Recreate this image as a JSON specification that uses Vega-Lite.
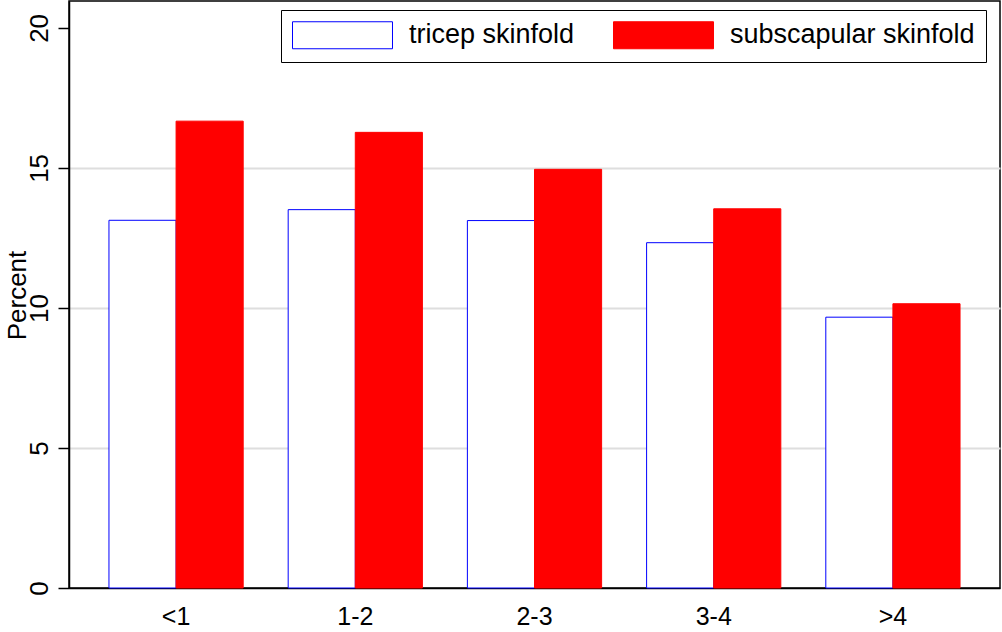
{
  "$schema": "https://vega.github.io/schema/vega-lite/v6.json",
  "width": 931,
  "height": 587,
  "autosize": {"type": "none"},
  "padding": {"left": 69, "top": 1, "right": 2, "bottom": 44},
  "background": "white",
  "config": {
    "font": "Liberation Sans",
    "view": {"stroke": "black", "strokeWidth": 1.5},
    "axis": {"labelColor": "black", "titleColor": "black", "labelFont": "Liberation Sans", "titleFont": "Liberation Sans"}
  },
  "data": {
    "values": [
      {"group": "<1", "series": "tricep skinfold", "percent": 13.13},
      {"group": "<1", "series": "subscapular skinfold", "percent": 16.67},
      {"group": "1-2", "series": "tricep skinfold", "percent": 13.51},
      {"group": "1-2", "series": "subscapular skinfold", "percent": 16.27},
      {"group": "2-3", "series": "tricep skinfold", "percent": 13.12},
      {"group": "2-3", "series": "subscapular skinfold", "percent": 14.95},
      {"group": "3-4", "series": "tricep skinfold", "percent": 12.33},
      {"group": "3-4", "series": "subscapular skinfold", "percent": 13.54},
      {"group": ">4", "series": "tricep skinfold", "percent": 9.67},
      {"group": ">4", "series": "subscapular skinfold", "percent": 10.15}
    ]
  },
  "mark": {"type": "bar", "strokeWidth": 1, "opacity": 1},
  "encoding": {
    "x": {
      "field": "group",
      "type": "nominal",
      "sort": ["<1", "1-2", "2-3", "3-4", ">4"],
      "scale": {"paddingInner": 0.251, "paddingOuter": 0.223},
      "axis": {
        "title": null,
        "labelAngle": 0,
        "ticks": false,
        "domain": true,
        "domainColor": "black",
        "domainWidth": 1.5,
        "labelFontSize": 25,
        "labelPadding": 16
      }
    },
    "xOffset": {
      "field": "series",
      "type": "nominal",
      "sort": ["tricep skinfold", "subscapular skinfold"],
      "scale": {"paddingInner": 0, "paddingOuter": 0}
    },
    "y": {
      "field": "percent",
      "type": "quantitative",
      "scale": {"domain": [0, 20.96], "nice": false, "zero": true},
      "axis": {
        "title": "Percent",
        "values": [0, 5, 10, 15, 20],
        "grid": true,
        "gridColor": {"condition": {"test": "datum.value == 0 || datum.value == 20", "value": "transparent"}, "value": "#dedede"},
        "gridWidth": 2,
        "domainColor": "black",
        "domainWidth": 1.5,
        "tickColor": "black",
        "tickWidth": 1.5,
        "tickSize": 11,
        "labelAngle": 270,
        "labelAlign": "center",
        "labelBaseline": "alphabetic",
        "labelFontSize": 26,
        "labelPadding": 11,
        "titleFontSize": 26,
        "titleFontWeight": "normal",
        "titleAngle": 270,
        "titleBaseline": "alphabetic",
        "titleX": -44,
        "titleY": 294
      }
    },
    "fill": {
      "field": "series",
      "type": "nominal",
      "scale": {"domain": ["tricep skinfold", "subscapular skinfold"], "range": ["#ffffff", "#ff0000"]},
      "legend": {
        "title": null,
        "orient": "none",
        "direction": "horizontal",
        "legendX": 212,
        "legendY": 9,
        "padding": 11,
        "strokeColor": "black",
        "fillColor": "white",
        "symbolType": "M-1,-1H6.407V1H-1Z",
        "symbolSize": 729,
        "symbolStrokeWidth": 1,
        "symbolOpacity": 1,
        "labelFontSize": 27,
        "labelLimit": 0,
        "labelColor": "black",
        "labelOffset": 89,
        "columnPadding": 36
      }
    },
    "stroke": {
      "field": "series",
      "type": "nominal",
      "scale": {"domain": ["tricep skinfold", "subscapular skinfold"], "range": ["#0000ff", "#ff0000"]},
      "legend": {
        "title": null,
        "orient": "none",
        "direction": "horizontal",
        "legendX": 212,
        "legendY": 9,
        "padding": 11,
        "strokeColor": "black",
        "fillColor": "white",
        "symbolType": "M-1,-1H6.407V1H-1Z",
        "symbolSize": 729,
        "symbolStrokeWidth": 1,
        "symbolOpacity": 1,
        "labelFontSize": 27,
        "labelLimit": 0,
        "labelColor": "black",
        "labelOffset": 89,
        "columnPadding": 36
      }
    }
  }
}
